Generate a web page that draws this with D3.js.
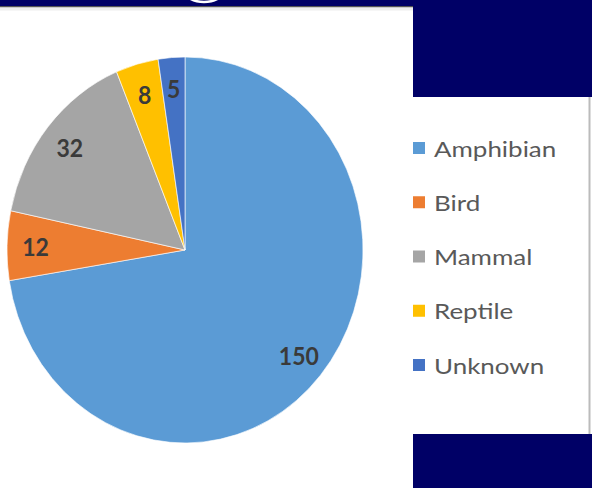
<!DOCTYPE html>
<head>
  <meta charset="utf-8">
  <script src="https://d3js.org/d3.v7.min.js"></script>
  <style>
    body { margin: 0; background: #fff; }
    svg { display: block; }
  </style>
</head>
<body>
<svg width="592" height="488"></svg>
<script>

  // chart data
  let categories = ["Amphibian", "Bird", "Mammal", "Reptile", "Unknown"],
    counts = [150, 12, 32, 8, 5],
    colors = ["#5B9BD5", "#ED7D31", "#A5A5A5", "#FFC000", "#4472C4"];

  let svg = d3.select("svg"),
    width = +svg.attr("width"),
    height = +svg.attr("height"),
    navy = "#000066",
    radius = 178,
    stretch = 193 / 178;

  let data = categories.map(function (c, i) {
    return {name: c, value: counts[i], color: colors[i]};
  });

  // slide background: white panels cut by navy blocks
  svg.append("rect").attr("width", width).attr("height", height).attr("fill", "#fff");
  svg.append("rect").attr("x", 0).attr("y", 0).attr("width", width).attr("height", 6).attr("fill", navy);
  svg.append("rect").attr("x", 0).attr("y", 6).attr("width", 413).attr("height", 1.5).attr("fill", "#555");
  svg.append("rect").attr("x", 0).attr("y", 7.5).attr("width", 413).attr("height", 3).attr("fill", "#eee");
  svg.append("rect").attr("x", 413).attr("y", 0).attr("width", width - 413).attr("height", 97).attr("fill", navy);
  svg.append("rect").attr("x", 413).attr("y", 434).attr("width", width - 413).attr("height", height - 434).attr("fill", navy);
  svg.append("rect").attr("x", 588.5).attr("y", 97).attr("width", 2).attr("height", 337).attr("fill", "#bbb");
  svg.append("ellipse")
    .attr("cx", 204).attr("cy", -20).attr("rx", 26).attr("ry", 22)
    .attr("fill", "none").attr("stroke", "#fff").attr("stroke-width", 2.5);

  // pie
  let pie = d3.pie().sort(null).value(function (d) { return d.value; });
  let arc = d3.arc().innerRadius(0).outerRadius(radius);
  let labelArc = d3.arc().innerRadius(radius * 0.84).outerRadius(radius * 0.84);

  let g = svg.append("g")
    .attr("transform", "translate(185,250) scale(1," + stretch + ")");

  g.selectAll("path")
    .data(pie(data))
    .enter().append("path")
    .attr("d", arc)
    .attr("fill", function (d) { return d.data.color; })
    .attr("stroke", "#fff")
    .attr("stroke-width", 0.6);

  g.selectAll("text")
    .data(pie(data))
    .enter().append("text")
    .attr("transform", function (d) { return "translate(" + labelArc.centroid(d) + ")"; })
    .attr("text-anchor", "middle")
    .attr("dominant-baseline", "central")
    .attr("font-family", "Lato, sans-serif")
    .attr("font-weight", "bold")
    .attr("font-size", 23)
    .attr("fill", "#3a3a3a")
    .text(function (d) { return d.data.value; });

  // legend
  let ly = d3.scalePoint().domain(categories).range([148, 365]);

  let legend = svg.selectAll(".legend")
    .data(data)
    .enter().append("g")
    .attr("class", "legend")
    .attr("transform", function (d) { return "translate(413," + ly(d.name) + ")"; });

  legend.append("rect")
    .attr("x", 0).attr("y", -6)
    .attr("width", 12).attr("height", 12)
    .attr("fill", function (d) { return d.color; });

  legend.append("text")
    .attr("transform", "translate(21,0) scale(1.18,1)")
    .attr("dominant-baseline", "central")
    .attr("font-family", "Lato, sans-serif")
    .attr("font-size", 22)
    .attr("fill", "#595959")
    .text(function (d) { return d.name; });

</script>
</body>
